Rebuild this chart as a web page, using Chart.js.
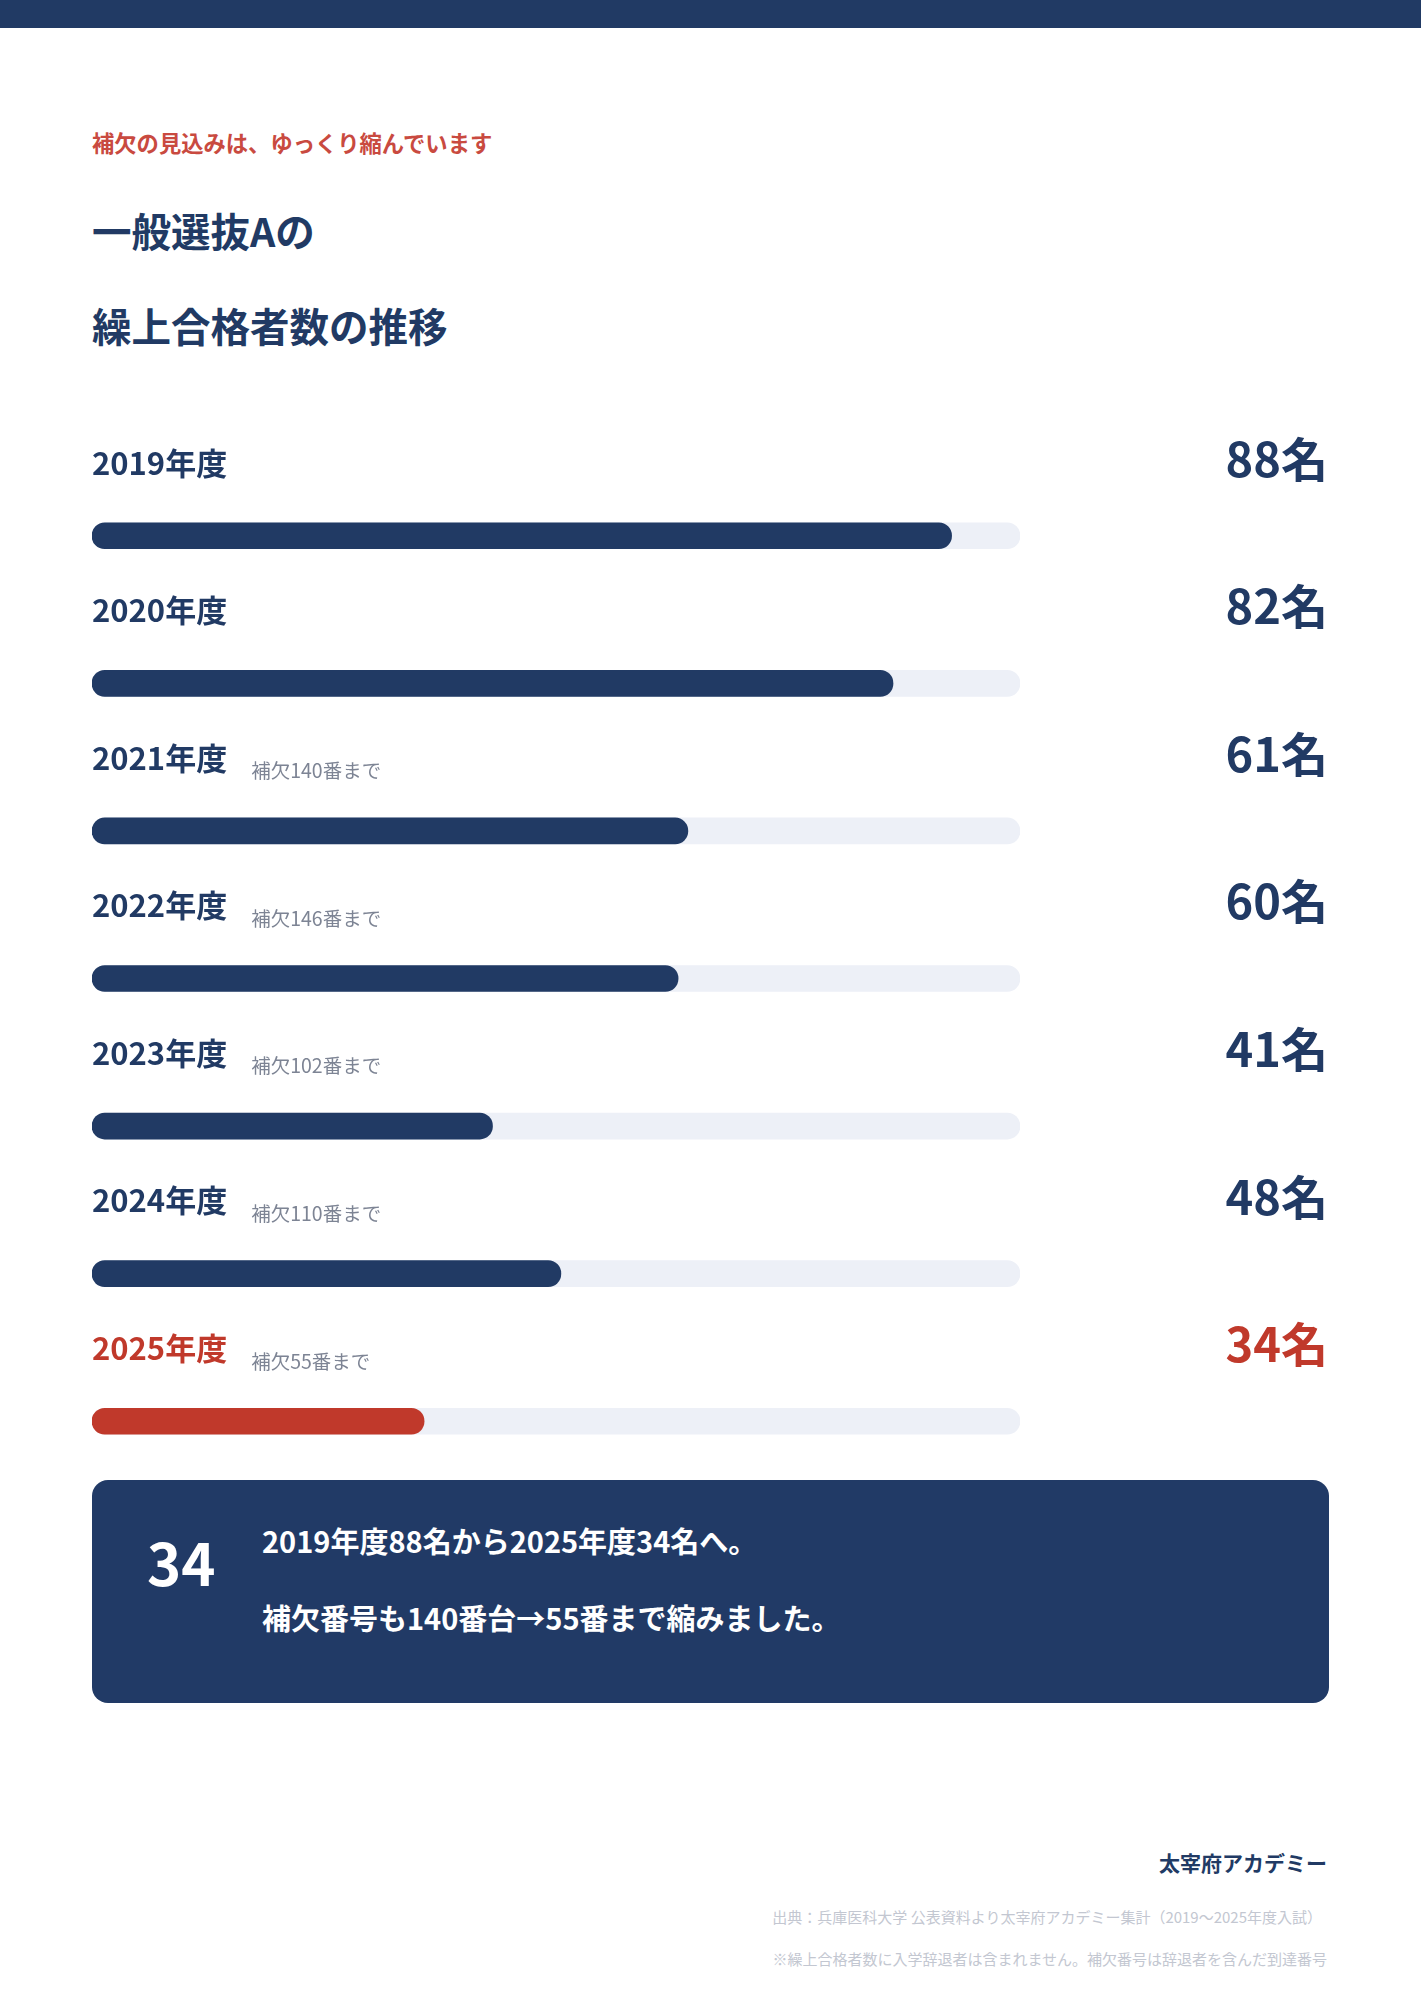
<!DOCTYPE html>
<html lang="ja">
<head>
<meta charset="utf-8">
<script src="https://cdn.jsdelivr.net/npm/chart.js@4/dist/chart.umd.min.js"></script>
<style>
  html, body { margin:0; padding:0; background:#fff; }
  body { width:1421px; height:2000px; position:relative; overflow:hidden;
         font-family:"Noto Sans CJK JP","Noto Sans",sans-serif; }
  .topbar { position:absolute; left:0; top:0; width:1421px; height:28px; background:#213a64; }
  .abs { position:absolute; white-space:nowrap; }
  #kicker { left:92px; top:127px; font-size:22.3px; line-height:30px; font-weight:700; color:#c94a40; }
  .title { left:92px; font-size:39.5px; line-height:50px; font-weight:700; color:#213a64; }
  #chartWrap { position:absolute; left:0; top:400px; width:1421px; height:1110px; }
  #box { position:absolute; left:92px; top:1480px; width:1237px; height:223px; background:#213a66; border-radius:16px; }
  #big { left:55px; top:46px; font-size:58px; line-height:70px; font-weight:700; color:#fff; }
  .msg { left:170px; font-size:29px; line-height:40px; font-weight:700; color:#fff; }
  #brand { right:94px; top:1847px; font-size:21px; line-height:30px; font-weight:700; color:#213a64; }
  .foot { right:94px; font-size:15px; line-height:22px; color:#c3c7d1; }
</style>
</head>
<body>
<div class="topbar"></div>
<div id="kicker" class="abs">補欠の見込みは、ゆっくり縮んでいます</div>
<div class="abs title" style="top:205px">一般選抜Aの</div>
<div class="abs title" style="top:300px">繰上合格者数の推移</div>

<div id="chartWrap"><canvas id="myChart" width="1421" height="1110"></canvas></div>

<div id="box">
  <div id="big" class="abs">34</div>
  <div class="abs msg" style="top:40px">2019年度88名から2025年度34名へ。</div>
  <div class="abs msg" style="top:117px">補欠番号も140番台→55番まで縮みました。</div>
</div>

<div id="brand" class="abs">太宰府アカデミー</div>
<div class="abs foot" style="top:1906px; right:99px">出典：兵庫医科大学 公表資料より太宰府アカデミー集計（2019〜2025年度入試）</div>
<div class="abs foot" style="top:1948px">※繰上合格者数に入学辞退者は含まれません。補欠番号は辞退者を含んだ到達番号</div>

<script>
// データ
const years = ['2019年度', '2020年度', '2021年度', '2022年度', '2023年度', '2024年度', '2025年度'];
const counts = [88, 82, 61, 60, 41, 48, 34];
const notes = ['', '', '補欠140番まで', '補欠146番まで', '補欠102番まで', '補欠110番まで', '補欠55番まで'];
const scaleMax = 95;
const unit = '名';

const NAVY = '#213a64';
const RED = '#c0392b';
const FONT = '"Noto Sans CJK JP","Noto Sans",sans-serif';

// 最後の年だけ赤
const barColors = counts.map((v, i) => i === counts.length - 1 ? RED : NAVY);

// ラベルを描くプラグイン
const labelPlugin = {
  id: 'rowLabels',
  afterDatasetsDraw(chart) {
    const ctx = chart.ctx;
    const yScale = chart.scales.y;
    const area = chart.chartArea;
    ctx.save();
    ctx.textBaseline = 'middle';
    years.forEach((yr, i) => {
      const y = yScale.getPixelForValue(i);
      const color = barColors[i];
      ctx.font = '700 31px ' + FONT;
      ctx.fillStyle = color;
      ctx.textAlign = 'left';
      ctx.fillText(yr, area.left, y - 73);
      const w = ctx.measureText(yr).width;
      if (notes[i]) {
        ctx.font = '400 19.5px ' + FONT;
        ctx.fillStyle = '#7d8494';
        ctx.fillText(notes[i], area.left + w + 24, y - 60);
      }
      ctx.font = '700 47px ' + FONT;
      ctx.fillStyle = color;
      ctx.textAlign = 'right';
      ctx.fillText(counts[i] + unit, 1328, y - 77);
    });
    ctx.restore();
  }
};

new Chart(document.getElementById('myChart'), {
  type: 'bar',
  data: {
    labels: years,
    datasets: [
      {
        data: counts,
        backgroundColor: barColors,
        borderRadius: 13,
        borderSkipped: false,
        barThickness: 26,
        grouped: false
      },
      {
        data: years.map(() => scaleMax),
        backgroundColor: '#edf0f7',
        borderRadius: 13,
        borderSkipped: false,
        barThickness: 26,
        grouped: false
      }
    ]
  },
  options: {
    indexAxis: 'y',
    responsive: false,
    animation: false,
    devicePixelRatio: 1,
    layout: { padding: { left: 92, right: 401, top: 62, bottom: 15 } },
    scales: {
      x: { display: false, min: 0, max: scaleMax },
      y: { display: false }
    },
    plugins: {
      legend: { display: false },
      tooltip: { enabled: false }
    }
  },
  plugins: [labelPlugin]
});
</script>
</body>
</html>
